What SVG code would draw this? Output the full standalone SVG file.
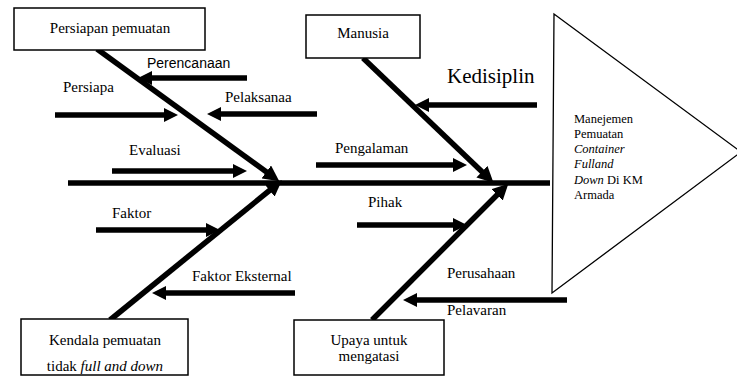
<svg xmlns="http://www.w3.org/2000/svg" width="737" height="376" viewBox="0 0 737 376">
<style>
.box{fill:#fff;stroke:#000;stroke-width:1.5}
.t{font-family:"Liberation Serif","Times New Roman",serif;font-size:15px;fill:#000}
.s{font-family:"Liberation Sans",Arial,sans-serif;font-size:14px;fill:#000}
.sm{font-family:"Liberation Serif","Times New Roman",serif;font-size:12.5px;fill:#000}
.bone{stroke:#000;stroke-width:5.5;fill:none}
.arr{stroke:#000;stroke-width:5.5;fill:none;marker-end:url(#ah)}
.bn{stroke:#000;stroke-width:5.5;fill:none;marker-end:url(#bh)}
</style>
<defs>
<marker id="ah" markerUnits="userSpaceOnUse" markerWidth="14" markerHeight="14" refX="6" refY="7" orient="auto"><path d="M0,0 L14,7 L0,14 z" fill="#000"/></marker>
<marker id="bh" markerUnits="userSpaceOnUse" markerWidth="16" markerHeight="16" refX="7" refY="8" orient="auto"><path d="M0,0 L16,8 L0,16 z" fill="#000"/></marker>
</defs>
<rect width="737" height="376" fill="#fff"/>
<g id="connectors">
<line class="bone" x1="68" y1="183" x2="550" y2="183"/>
<line class="bn" x1="97" y1="49" x2="272" y2="176"/>
<line class="bn" x1="110" y1="320" x2="275" y2="186"/>
<line class="bn" x1="363" y1="58" x2="487" y2="176.5"/>
<line class="bn" x1="372" y1="320" x2="502" y2="190"/>
<line class="arr" x1="247" y1="78" x2="146" y2="78"/>
<line class="arr" x1="55" y1="115" x2="170" y2="115"/>
<line class="arr" x1="317" y1="114" x2="215" y2="114"/>
<line class="arr" x1="112" y1="171" x2="239" y2="171"/>
<line class="arr" x1="537" y1="105" x2="423" y2="105"/>
<line class="arr" x1="316" y1="165" x2="459" y2="165"/>
<line class="arr" x1="357" y1="225" x2="459" y2="225"/>
<line class="arr" x1="96" y1="230" x2="212" y2="230"/>
<line class="arr" x1="295" y1="293" x2="160" y2="293"/>
<line class="arr" x1="567" y1="300" x2="411" y2="300"/>
</g>
<g id="persiapan-pemuatan">
<rect class="box" x="14" y="8" width="191" height="42"/>
<text class="t" x="110" y="33" text-anchor="middle">Persiapan pemuatan</text>
</g>
<g id="manusia">
<rect class="box" x="306" y="15" width="114" height="43"/>
<text class="t" x="363" y="38" text-anchor="middle">Manusia</text>
</g>
<g id="kendala">
<rect class="box" x="21" y="319" width="167" height="56"/>
<text class="t" x="105" y="345" text-anchor="middle">Kendala pemuatan</text>
<text class="t" x="105" y="371" text-anchor="middle">tidak <tspan font-style="italic">full and down</tspan></text>
</g>
<g id="upaya">
<rect class="box" x="294" y="320" width="150" height="55"/>
<text class="t" x="369" y="345" text-anchor="middle">Upaya untuk</text>
<text class="t" x="369" y="361" text-anchor="middle">mengatasi</text>
</g>
<g id="head">
<polygon points="554,14 741,152 552,293" fill="#fff" stroke="#000" stroke-width="1.3"/>
<text class="sm" x="574" y="123">Manejemen</text>
<text class="sm" x="574" y="138">Pemuatan</text>
<text class="sm" x="574" y="153" font-style="italic">Container</text>
<text class="sm" x="574" y="168" font-style="italic">Fulland</text>
<text class="sm" x="574" y="184"><tspan font-style="italic">Down</tspan> Di KM</text>
<text class="sm" x="574" y="199">Armada</text>
</g>
<g id="labels">
<text class="s" x="147" y="68">Perencanaan</text>
<text class="t" x="63" y="92">Persiapa</text>
<text class="t" x="225" y="102">Pelaksanaa</text>
<text class="t" x="129" y="155">Evaluasi</text>
<text class="t" x="447" y="83" style="font-size:21px">Kedisiplin</text>
<text class="t" x="335" y="153">Pengalaman</text>
<text class="t" x="368" y="207">Pihak</text>
<text class="t" x="112" y="218">Faktor</text>
<text class="t" x="192" y="281">Faktor Eksternal</text>
<text class="t" x="447" y="278">Perusahaan</text>
<text class="t" x="447" y="315">Pelavaran</text>
</g>
</svg>
